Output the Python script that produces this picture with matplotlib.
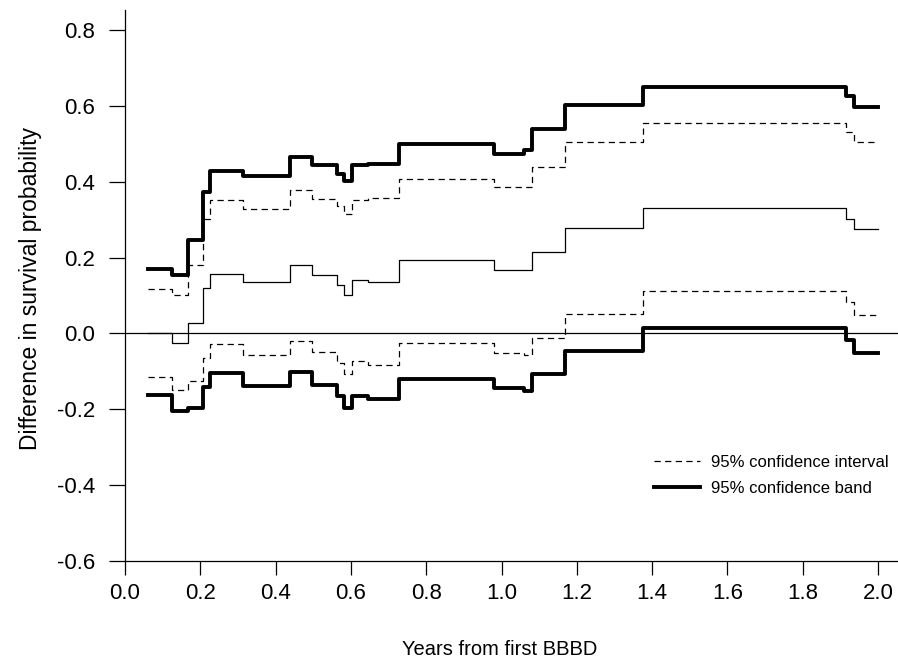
import matplotlib
matplotlib.use("Agg")
import matplotlib.pyplot as plt

plt.rcParams["font.family"] = ["Liberation Sans", "DejaVu Sans"]
plt.rcParams["axes.unicode_minus"] = False

# step times (years) and values; last value repeated at the end time
times = [0.060, 0.126, 0.166, 0.206, 0.226, 0.314, 0.438, 0.497, 0.562, 0.581,
         0.603, 0.646, 0.727, 0.980, 1.059, 1.082, 1.168, 1.376, 1.916, 1.935, 2.0]

estimate = [0.000, -0.026, 0.028, 0.119, 0.158, 0.136, 0.180, 0.155, 0.127, 0.101,
            0.140, 0.136, 0.193, 0.167, 0.167, 0.215, 0.277, 0.332, 0.303, 0.276, 0.276]

ci_upper = [0.118, 0.101, 0.180, 0.301, 0.352, 0.329, 0.378, 0.354, 0.336, 0.314,
            0.352, 0.356, 0.408, 0.385, 0.387, 0.440, 0.504, 0.556, 0.530, 0.505, 0.505]
ci_lower = [-0.115, -0.150, -0.126, -0.064, -0.027, -0.057, -0.019, -0.049, -0.079, -0.107,
            -0.073, -0.082, -0.026, -0.051, -0.056, -0.013, 0.050, 0.112, 0.084, 0.048, 0.048]

band_upper = [0.169, 0.153, 0.246, 0.374, 0.429, 0.414, 0.464, 0.444, 0.420, 0.402,
              0.444, 0.446, 0.499, 0.474, 0.484, 0.539, 0.603, 0.651, 0.625, 0.598, 0.598]
band_lower = [-0.163, -0.204, -0.197, -0.141, -0.104, -0.139, -0.102, -0.135, -0.166, -0.197,
              -0.164, -0.174, -0.119, -0.144, -0.152, -0.108, -0.047, 0.015, -0.018, -0.051, -0.051]

xticks = [0.0, 0.2, 0.4, 0.6, 0.8, 1.0, 1.2, 1.4, 1.6, 1.8, 2.0]
yticks = [-0.6, -0.4, -0.2, 0.0, 0.2, 0.4, 0.6, 0.8]

fig = plt.figure(figsize=(8.98, 6.70), dpi=100)
ax = fig.add_axes([0.1392, 0.1627, 0.8608, 0.8224])

ax.axhline(0, color="black", lw=0.9)
ax.step(times, estimate, where="post", color="black", lw=0.9)
ax.step(times, ci_upper, where="post", color="black", lw=0.9, ls=(0, (5, 3.5)),
        label="95% confidence interval")
ax.step(times, ci_lower, where="post", color="black", lw=0.9, ls=(0, (5, 3.5)))
ax.step(times, band_upper, where="post", color="black", lw=2.8,
        label="95% confidence band")
ax.step(times, band_lower, where="post", color="black", lw=2.8)

ax.set_xlim(0, 2.053)
ax.set_ylim(-0.6, 0.853)
ax.spines["top"].set_visible(False)
ax.spines["right"].set_visible(False)
for s in ("left", "bottom"):
    ax.spines[s].set_linewidth(0.9)

ax.set_xticks(xticks)
ax.set_xticklabels([f"{v:.1f}" for v in xticks])
ax.set_yticks(yticks)
ax.set_yticklabels([f"{v:.1f}" for v in yticks])
ax.tick_params(axis="y", length=11.5, width=0.9, pad=10, labelsize=16)
ax.tick_params(axis="x", length=10, width=0.9, pad=6, labelsize=16)

fig.text(0.034, 0.57, "Difference in survival probability", rotation=90,
         ha="center", va="center", fontsize=16.5)
fig.text(0.557, 0.03, "Years from first BBBD", ha="center", va="center", fontsize=14.5)

ax.legend(loc="upper left", bbox_to_anchor=(0.728, 0.321), bbox_transform=fig.transFigure,
          frameon=False, fontsize=12, handlelength=2.75, handletextpad=0.7,
          labelspacing=0.66, borderaxespad=0, borderpad=0)

fig.savefig("out.png", dpi=100)
